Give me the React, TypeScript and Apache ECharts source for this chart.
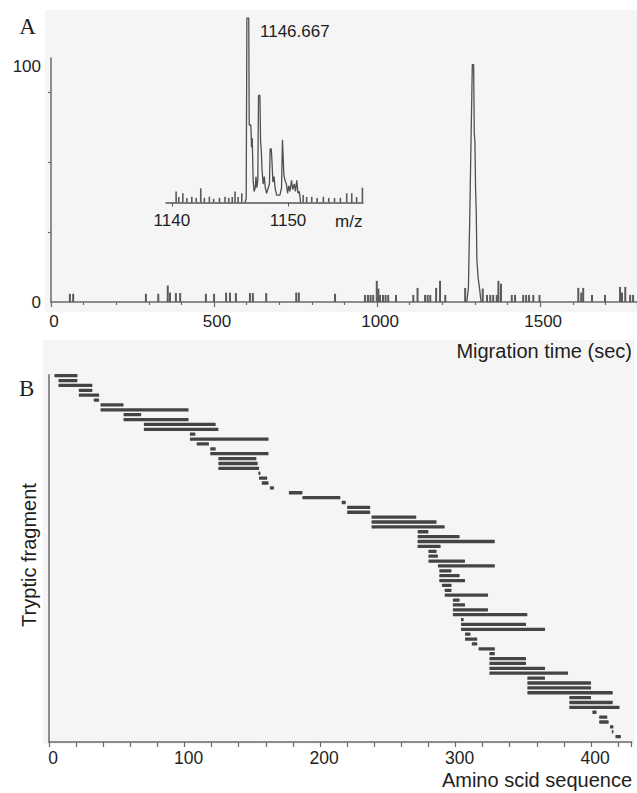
import React, { useEffect, useRef } from "react";
import * as echarts from "echarts";

// ---------- Panel A: electropherogram (migration time, sec / relative intensity) ----------
const chromNoiseTime = [58, 68, 291, 329, 358, 365, 383, 396, 475, 500, 537, 549, 567, 610, 619, 660, 752, 760, 871, 963, 972, 980, 988, 999, 1004, 1009, 1018, 1026, 1034, 1058, 1111, 1124, 1147, 1155, 1163, 1181, 1193, 1209, 1270, 1324, 1337, 1347, 1356, 1367, 1372, 1380, 1413, 1423, 1448, 1457, 1466, 1479, 1498, 1617, 1626, 1632, 1659, 1699, 1745, 1751, 1761, 1776, 1785];
const chromNoiseHeight = [3.5, 3.5, 3.5, 3.5, 7, 4, 3.8, 3.8, 3.5, 3.5, 4, 4, 3.8, 3.8, 3.8, 3.8, 4, 4, 3.5, 3, 3, 3, 3, 9, 5.7, 3, 3, 3, 3, 3, 3, 6, 3, 3, 3, 6, 9, 3, 6, 5.7, 3, 3, 3, 3, 9, 7.8, 3, 3, 3, 3, 3, 3, 3, 6, 4, 6, 3, 3, 6.4, 4, 6.4, 3, 3];
const peakTime = [1275, 1280, 1284, 1287, 1292, 1296, 1298, 1300, 1302, 1304, 1306, 1310, 1314, 1318, 1320];
const peakIntensity = [0, 6, 35, 60, 101, 101, 72, 68, 48, 39, 18, 10, 6, 1, 0];
const xTicksA = { min: 0, max: 1797, interval: 500 };

// ---------- Inset: mass spectrum (m/z) ----------
const insetNoiseMz = [1140.37, 1140.6, 1140.95, 1141.3, 1141.72, 1142.1, 1142.49, 1142.8, 1143.23, 1143.6, 1144.1, 1144.58, 1144.9, 1145.2, 1145.44, 1145.7, 1146.02, 1151.3, 1151.6, 1152.04, 1152.5, 1153.04, 1153.5, 1154.0, 1154.5, 1155.05, 1155.48, 1155.9, 1156.4];
const insetNoiseI = [5.9, 3, 5, 2.5, 3.1, 2.5, 7.7, 2.5, 3.1, 2, 2.5, 3.1, 2.5, 3, 5.9, 3, 5, 4, 3, 3.1, 2.5, 3.1, 2.5, 2.5, 2.5, 5, 5, 3, 8];
const insetMz = [1146.30, 1146.40, 1146.46, 1146.62, 1146.66, 1146.80, 1146.86, 1146.92, 1147.00, 1147.08, 1147.18, 1147.24, 1147.32, 1147.40, 1147.46, 1147.58, 1147.64, 1147.70, 1147.76, 1147.86, 1147.96, 1148.04, 1148.16, 1148.30, 1148.40, 1148.46, 1148.56, 1148.62, 1148.70, 1148.80, 1148.88, 1149.02, 1149.30, 1149.44, 1149.52, 1149.58, 1149.64, 1149.74, 1149.86, 1149.96, 1150.06, 1150.16, 1150.30, 1150.40, 1150.54, 1150.64, 1150.75, 1150.86, 1150.97, 1151.08];
const insetI = [0, 2, 100, 100, 42, 42, 30, 35, 12, 6, 8, 14, 8, 12, 58, 58, 33, 28, 18, 10, 14, 8, 5, 8, 10, 29, 29, 22, 11, 14, 8, 4, 4, 8, 34, 34, 15, 12, 10, 5, 9, 6, 12, 7, 10, 6, 12, 5, 6, 0];
const insetTickValues = [1140, 1150];
const peakLabel = "1146.667";

// ---------- Panel B: tryptic fragments along the amino acid sequence ----------
const fragStart = [4, 7, 7, 22, 22, 33, 38, 38, 55, 55, 70, 70, 104, 104, 109, 119, 119, 125, 125, 125, 154.5, 155, 157, 163, 177, 187, 216, 220, 220, 238, 238, 238, 272, 272, 272, 272, 280, 280, 280, 287, 288, 288, 288, 290, 292, 292, 298, 298, 298, 298, 304, 304, 304, 307, 307, 312, 317, 325, 325, 325, 325, 325, 353, 353, 353, 353, 384, 384, 384, 401, 406, 406, 414, 415.3, 418];
const fragEnd = [21, 21, 32, 32, 37, 37, 55, 103, 68, 103, 123, 125, 108, 162, 118, 123, 162, 153, 154, 155, 156, 161, 162, 166, 187, 215, 219, 237, 237, 271, 286, 292, 280, 303, 329, 289, 286, 287, 307, 329, 297, 303, 307, 297, 297, 324, 303, 307, 324, 353, 306, 352, 366, 311, 316, 316, 329, 329, 352, 352, 366, 383, 366, 400, 400, 416, 400, 416, 421, 404, 412, 413, 416.5, 416.5, 422];

const SANS = '"Liberation Sans", Arial, Helvetica, sans-serif';
const SERIF = '"Liberation Serif", "Times New Roman", serif';
const AXIS = "#6a6a6a";
const INK = "#1e1e1e";
const MARK = "#444444";
const plain = (v: number) => String(v);

function spikeRenderer(width: number) {
  return (params: any, api: any) => {
    const p0 = api.coord([api.value(0), 0]);
    const p1 = api.coord([api.value(0), api.value(1)]);
    return {
      type: "rect",
      shape: { x: p0[0] - width / 2, y: p1[1], width, height: p0[1] - p1[1] },
      style: { fill: "#5a5a5a" },
    };
  };
}

export default function App() {
  const ref = useRef<HTMLDivElement>(null);
  useEffect(() => {
    if (!ref.current) return;
    const chart = echarts.init(ref.current, undefined, { renderer: "svg" });

    const chromSpikes = chromNoiseTime.map((t, i) => [t, chromNoiseHeight[i]]);
    const peakData = peakTime.map((t, i) => [t, peakIntensity[i]]);
    const insetSpikes = insetNoiseMz.map((m, i) => [m, insetNoiseI[i]]);
    const insetData = insetMz.map((m, i) => [m, insetI[i]]);
    const fragData = fragStart.map((s, i) => [s, fragEnd[i], i + 1]);

    const option: any = {
      animation: false,
      backgroundColor: "#ffffff",
      grid: [
        { left: 51, top: 58, width: 586, height: 244 },
        { left: 166, top: 18, width: 197, height: 184.5 },
        { left: 49, top: 374.7, width: 582.7, height: 367.3 },
      ],
      xAxis: [
        {
          type: "value", gridIndex: 0, min: xTicksA.min, max: xTicksA.max, interval: xTicksA.interval,
          axisLine: { onZero: false, lineStyle: { color: AXIS, width: 1.5 } },
          axisTick: { length: 5, lineStyle: { color: AXIS, width: 1.2 } },
          minorTick: { show: true, splitNumber: 5, length: 3, lineStyle: { color: AXIS, width: 1.2 } },
          axisLabel: { formatter: plain, fontSize: 17, color: INK, fontFamily: SANS, margin: 11, padding: [0, 0, 0, 6], showMaxLabel: false },
          splitLine: { show: false }, minorSplitLine: { show: false },
        },
        {
          type: "value", gridIndex: 1, min: 1139.5, max: 1156.45,
          axisLine: { onZero: false, lineStyle: { color: "#555", width: 1.5 } },
          axisTick: { customValues: insetTickValues, length: 4, lineStyle: { color: "#555" } },
          axisLabel: { customValues: insetTickValues, formatter: plain, fontSize: 17, color: INK, fontFamily: SANS, margin: 9 },
          splitLine: { show: false },
        },
        {
          type: "value", gridIndex: 2, min: 0, max: 430, interval: 100, position: "bottom",
          axisLine: { onZero: false, lineStyle: { color: AXIS, width: 1.5 } },
          axisTick: { length: 5, lineStyle: { color: AXIS, width: 1.2 } },
          minorTick: { show: true, splitNumber: 5, length: 5, lineStyle: { color: AXIS, width: 1.2 } },
          axisLabel: { formatter: plain, fontSize: 17.5, color: INK, fontFamily: SANS, margin: 7, padding: [0, 0, 0, 8], showMaxLabel: false },
          splitLine: { show: false }, minorSplitLine: { show: false },
        },
      ],
      yAxis: [
        {
          type: "value", gridIndex: 0, min: 0, max: 103.8,
          axisLine: { show: true, lineStyle: { color: AXIS, width: 1.5 } },
          axisTick: { show: true, customValues: [29.8, 59.6, 89.2], length: 3, lineStyle: { color: AXIS, width: 1.2 } },
          axisLabel: { customValues: [0, 100], formatter: plain, fontSize: 17, color: INK, fontFamily: SANS, margin: 10 },
          splitLine: { show: false },
        },
        { type: "value", gridIndex: 1, min: 0, max: 100, show: false },
        {
          type: "value", gridIndex: 2, min: 0.8, max: 76.1, inverse: true,
          axisLine: { show: true, onZero: false, lineStyle: { color: AXIS, width: 1.5 } },
          axisTick: { show: false }, axisLabel: { show: false }, splitLine: { show: false },
        },
      ],
      series: [
        {
          type: "custom", xAxisIndex: 0, yAxisIndex: 0, data: chromSpikes,
          renderItem: spikeRenderer(2), encode: { x: 0, y: 1 }, silent: true,
        },
        {
          type: "line", xAxisIndex: 0, yAxisIndex: 0, data: peakData, showSymbol: false,
          lineStyle: { color: "#505050", width: 1.3 }, silent: true,
        },
        {
          type: "custom", xAxisIndex: 1, yAxisIndex: 1, data: insetSpikes,
          renderItem: spikeRenderer(1.6), encode: { x: 0, y: 1 }, silent: true,
        },
        {
          type: "line", xAxisIndex: 1, yAxisIndex: 1, data: insetData, showSymbol: false,
          lineStyle: { color: "#505050", width: 1.3 }, silent: true,
        },
        {
          type: "custom", xAxisIndex: 2, yAxisIndex: 2, data: fragData, encode: { x: [0, 1], y: 2 }, silent: true,
          renderItem: (params: any, api: any) => {
            const row = api.value(2);
            const a = api.coord([api.value(0), row]);
            const b = api.coord([api.value(1), row]);
            return {
              type: "rect",
              shape: { x: a[0], y: a[1] - 1.65, width: Math.max(b[0] - a[0], 1.5), height: 3.3, r: 0.6 },
              style: { fill: MARK },
            };
          },
        },
      ],
      graphic: [
        { type: "rect", z: -100, shape: { x: 45, y: 10, width: 592, height: 302 }, style: { fill: "#f5f5f5" } },
        { type: "rect", z: -100, shape: { x: 43, y: 340, width: 591, height: 404 }, style: { fill: "#f5f5f5" } },
        { type: "text", z: 100, x: 27.5, y: 26, style: { text: "A", font: `23px ${SERIF}`, fill: INK, align: "center", verticalAlign: "middle" } },
        { type: "text", z: 100, x: 26.7, y: 388.5, style: { text: "B", font: `23px ${SERIF}`, fill: INK, align: "center", verticalAlign: "middle" } },
        { type: "text", z: 100, x: 260, y: 31, style: { text: peakLabel, font: `17px ${SANS}`, fill: INK, align: "left", verticalAlign: "middle" } },
        { type: "text", z: 100, x: 335, y: 221, style: { text: "m/z", font: `17px ${SANS}`, fill: INK, align: "left", verticalAlign: "middle" } },
        { type: "text", z: 100, x: 632, y: 351, style: { text: "Migration time (sec)", font: `20px ${SANS}`, fill: INK, align: "right", verticalAlign: "middle" } },
        { type: "text", z: 100, x: 29, y: 555, rotation: Math.PI / 2, style: { text: "Tryptic fragment", font: `20px ${SANS}`, fill: INK, align: "center", verticalAlign: "middle" } },
        { type: "text", z: 100, x: 632, y: 780, style: { text: "Amino scid sequence", font: `20px ${SANS}`, fill: INK, align: "right", verticalAlign: "middle" } },
      ],
    };

    chart.setOption(option);
    return () => chart.dispose();
  }, []);

  return (
    <div
      ref={ref}
      style={{ position: "absolute", left: 0, top: 0, width: 637, height: 793, background: "#fff" }}
    />
  );
}
